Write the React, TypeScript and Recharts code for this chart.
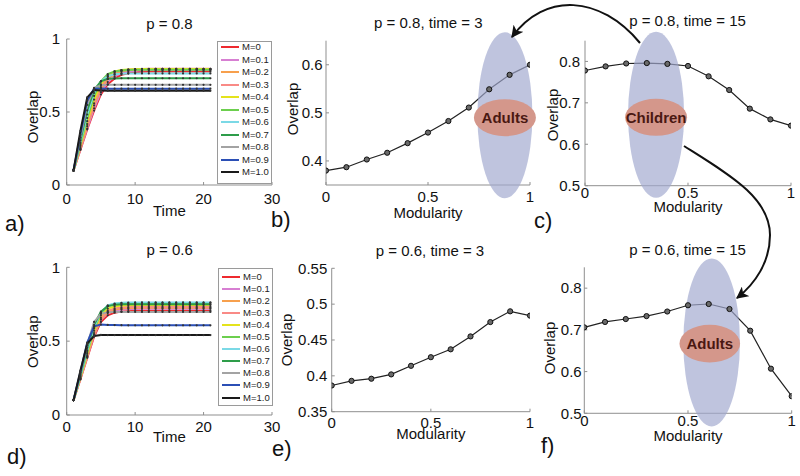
import React from 'react';
import { LineChart, Line, XAxis, YAxis, ReferenceDot, Legend, Label } from 'recharts';

// ---- data ----
const TIMES = [1, 2, 3, 4, 5, 6, 7, 8, 9, 10, 11, 12, 13, 14, 15, 16, 17, 18, 19, 20, 21];
const MODULARITY = [0, 0.1, 0.2, 0.3, 0.4, 0.5, 0.6, 0.7, 0.8, 0.9, 1];
const M_LABELS = ['M=0', 'M=0.1', 'M=0.2', 'M=0.3', 'M=0.4', 'M=0.5', 'M=0.6', 'M=0.7', 'M=0.8', 'M=0.9', 'M=1.0'];
const M_COLORS = ['#ee2a2f', '#d77fd2', '#f7a04d', '#f98a86', '#e4e31c', '#6ccf4e', '#7bd9e6', '#2e9d4a', '#a3a3a3', '#2b4fb5', '#1a1a1a'];

// overlap vs time, p = 0.8 (one row per modularity value)
const P08_CURVES = [
  [0.1, 0.24, 0.38, 0.51, 0.62, 0.69, 0.73, 0.755, 0.766, 0.772, 0.775, 0.777, 0.778, 0.778, 0.778, 0.778, 0.778, 0.778, 0.778, 0.778, 0.778],
  [0.1, 0.245, 0.387, 0.525, 0.635, 0.705, 0.745, 0.766, 0.777, 0.783, 0.786, 0.787, 0.788, 0.788, 0.788, 0.788, 0.788, 0.788, 0.788, 0.788, 0.788],
  [0.1, 0.25, 0.403, 0.545, 0.655, 0.725, 0.76, 0.778, 0.787, 0.791, 0.793, 0.794, 0.795, 0.795, 0.795, 0.795, 0.795, 0.795, 0.795, 0.795, 0.795],
  [0.1, 0.26, 0.417, 0.56, 0.67, 0.74, 0.772, 0.785, 0.79, 0.793, 0.795, 0.796, 0.796, 0.796, 0.796, 0.796, 0.796, 0.796, 0.796, 0.796, 0.796],
  [0.1, 0.27, 0.437, 0.585, 0.69, 0.752, 0.778, 0.787, 0.791, 0.793, 0.794, 0.794, 0.794, 0.794, 0.794, 0.794, 0.794, 0.794, 0.794, 0.794, 0.794],
  [0.1, 0.28, 0.459, 0.61, 0.71, 0.76, 0.778, 0.785, 0.788, 0.789, 0.789, 0.789, 0.789, 0.789, 0.789, 0.789, 0.789, 0.789, 0.789, 0.789, 0.789],
  [0.1, 0.29, 0.483, 0.63, 0.71, 0.745, 0.758, 0.762, 0.763, 0.764, 0.764, 0.764, 0.764, 0.764, 0.764, 0.764, 0.764, 0.764, 0.764, 0.764, 0.764],
  [0.1, 0.305, 0.511, 0.65, 0.71, 0.727, 0.73, 0.731, 0.731, 0.731, 0.731, 0.731, 0.731, 0.731, 0.731, 0.731, 0.731, 0.731, 0.731, 0.731, 0.731],
  [0.1, 0.325, 0.549, 0.665, 0.684, 0.686, 0.686, 0.686, 0.686, 0.686, 0.686, 0.686, 0.686, 0.686, 0.686, 0.686, 0.686, 0.686, 0.686, 0.686, 0.686],
  [0.1, 0.345, 0.579, 0.66, 0.661, 0.66, 0.66, 0.66, 0.66, 0.66, 0.66, 0.66, 0.66, 0.66, 0.66, 0.66, 0.66, 0.66, 0.66, 0.66, 0.66],
  [0.1, 0.37, 0.6, 0.65, 0.647, 0.645, 0.645, 0.645, 0.645, 0.645, 0.645, 0.645, 0.645, 0.645, 0.645, 0.645, 0.645, 0.645, 0.645, 0.645, 0.645],
];

// overlap vs time, p = 0.6
const P06_CURVES = [
  [0.1, 0.24, 0.387, 0.53, 0.63, 0.675, 0.693, 0.7, 0.703, 0.705, 0.706, 0.706, 0.706, 0.706, 0.706, 0.706, 0.706, 0.706, 0.706, 0.706, 0.706],
  [0.1, 0.245, 0.393, 0.54, 0.645, 0.69, 0.707, 0.714, 0.717, 0.718, 0.719, 0.719, 0.719, 0.719, 0.719, 0.719, 0.719, 0.719, 0.719, 0.719, 0.719],
  [0.1, 0.245, 0.396, 0.545, 0.65, 0.697, 0.714, 0.721, 0.724, 0.725, 0.726, 0.726, 0.726, 0.726, 0.726, 0.726, 0.726, 0.726, 0.726, 0.726, 0.726],
  [0.1, 0.25, 0.402, 0.555, 0.66, 0.706, 0.722, 0.729, 0.731, 0.732, 0.733, 0.733, 0.733, 0.733, 0.733, 0.733, 0.733, 0.733, 0.733, 0.733, 0.733],
  [0.1, 0.255, 0.414, 0.57, 0.675, 0.72, 0.735, 0.741, 0.743, 0.744, 0.744, 0.744, 0.744, 0.744, 0.744, 0.744, 0.744, 0.744, 0.744, 0.744, 0.744],
  [0.1, 0.26, 0.426, 0.585, 0.69, 0.737, 0.751, 0.756, 0.758, 0.759, 0.759, 0.759, 0.759, 0.759, 0.759, 0.759, 0.759, 0.759, 0.759, 0.759, 0.759],
  [0.1, 0.265, 0.437, 0.595, 0.695, 0.742, 0.755, 0.76, 0.761, 0.762, 0.762, 0.762, 0.762, 0.762, 0.762, 0.762, 0.762, 0.762, 0.762, 0.762, 0.762],
  [0.1, 0.275, 0.455, 0.61, 0.7, 0.737, 0.747, 0.749, 0.75, 0.75, 0.75, 0.75, 0.75, 0.75, 0.75, 0.75, 0.75, 0.75, 0.75, 0.75, 0.75],
  [0.1, 0.285, 0.475, 0.63, 0.685, 0.696, 0.698, 0.698, 0.698, 0.698, 0.698, 0.698, 0.698, 0.698, 0.698, 0.698, 0.698, 0.698, 0.698, 0.698, 0.698],
  [0.1, 0.29, 0.49, 0.6, 0.612, 0.61, 0.609, 0.608, 0.607, 0.607, 0.607, 0.607, 0.607, 0.607, 0.607, 0.607, 0.607, 0.607, 0.607, 0.607, 0.607],
  [0.1, 0.3, 0.484, 0.535, 0.542, 0.541, 0.541, 0.541, 0.541, 0.541, 0.541, 0.541, 0.541, 0.541, 0.541, 0.541, 0.541, 0.541, 0.541, 0.541, 0.541],
];

// overlap vs modularity snapshots
const P08_T3 = [0.38, 0.387, 0.403, 0.417, 0.437, 0.459, 0.483, 0.511, 0.549, 0.579, 0.6];
const P08_T15 = [0.778, 0.788, 0.795, 0.796, 0.794, 0.789, 0.764, 0.731, 0.686, 0.66, 0.645];
const P06_T3 = [0.3865, 0.393, 0.396, 0.402, 0.414, 0.426, 0.437, 0.455, 0.475, 0.49, 0.484];
const P06_T15 = [0.706, 0.719, 0.726, 0.733, 0.744, 0.759, 0.762, 0.75, 0.698, 0.607, 0.541];

const TIME_TICKS = [0, 10, 20, 30];
const MOD_TICKS = [0, 0.5, 1];

// ---- styling ----
const FONT = '"Liberation Sans", Arial, Helvetica, sans-serif';
const AXIS_GRAY = '#8f8f8f';
const TICK = -3;
const BLUE_BLOB = 'rgba(160,168,206,0.68)';
const SALMON = '#d4978b';

const fmt = (v: number) => String(Math.round(v * 100) / 100);

const timeRows = (curves: number[][]) =>
  TIMES.map((t, i) => {
    const row: Record<string, number> = { t };
    curves.forEach((c, k) => { row['m' + k] = c[i]; });
    return row;
  });

const modRows = (vals: number[]) => MODULARITY.map((m, i) => ({ m, v: vals[i] }));

interface PanelProps {
  left: number;
  top: number;
  plot: [number, number, number, number];
  data: any[];
  xKey: string;
  xDomain: [number, number];
  xTicks: number[];
  yDomain: [number, number];
  yTicks: number[];
  xGap: number;
  yGap: number;
  xLabel: string;
  xLabelY: number;
  yLabelX: number;
  yLabelY: number;
  children?: React.ReactNode;
}

// axis titles drawn with a fixed 15px font; positions given in page coords
const axisTitle = (text: string, pageX: number, pageY: number, left: number, top: number, rotate: boolean) => () => {
  const x = pageX - left;
  const y = pageY - top;
  return (
    <text x={x} y={y} dy="0.36em" textAnchor="middle" fontFamily={FONT} fontSize={15} fill="#111"
      transform={rotate ? `rotate(-90, ${x}, ${y})` : undefined}>
      {text}
    </text>
  );
};

const Panel = (p: PanelProps) => {
  const [x0, y0, x1, y1] = p.plot;
  const yW = x0 - p.left;
  const xH = 50;
  const width = x1 - p.left + 14;
  const height = y1 - p.top + xH;
  const tickStyle = { fill: '#111', fontSize: 15, fontFamily: FONT };
  return (
    <div style={{ position: 'absolute', left: p.left, top: p.top, width, height }}>
      <LineChart width={width} height={height} data={p.data} margin={{ top: y0 - p.top, right: 14, bottom: 0, left: 0 }}>
        <XAxis dataKey={p.xKey} type="number" domain={p.xDomain} ticks={p.xTicks} interval={0} allowDataOverflow
          height={xH} tickSize={TICK} tickMargin={p.xGap - TICK} tickFormatter={fmt}
          axisLine={{ stroke: AXIS_GRAY }} tickLine={{ stroke: AXIS_GRAY }} tick={tickStyle}>
          <Label content={axisTitle(p.xLabel, (x0 + x1) / 2, p.xLabelY, p.left, p.top, false)} />
        </XAxis>
        <XAxis xAxisId="top" orientation="top" dataKey={p.xKey} type="number" domain={p.xDomain} ticks={p.xTicks}
          allowDataOverflow height={0} tickSize={TICK} tick={false}
          axisLine={{ stroke: AXIS_GRAY }} tickLine={{ stroke: AXIS_GRAY }} />
        <YAxis type="number" domain={p.yDomain} ticks={p.yTicks} interval={0} allowDataOverflow width={yW}
          tickSize={TICK} tickMargin={p.yGap - TICK} tickFormatter={fmt}
          axisLine={{ stroke: AXIS_GRAY }} tickLine={{ stroke: AXIS_GRAY }} tick={tickStyle}>
          <Label content={axisTitle('Overlap', p.yLabelX, p.yLabelY, p.left, p.top, true)} />
        </YAxis>
        <YAxis yAxisId="right" orientation="right" type="number" domain={p.yDomain} ticks={p.yTicks}
          allowDataOverflow width={0} tickSize={TICK} tick={false}
          axisLine={{ stroke: AXIS_GRAY }} tickLine={{ stroke: AXIS_GRAY }} />
        {p.children}
      </LineChart>
    </div>
  );
};

const blob = (rx: number, ry: number, fill: string, text?: string) => (props: any) => (
  <g>
    <ellipse cx={props.cx} cy={props.cy} rx={rx} ry={ry} fill={fill} />
    {text ? (
      <text x={props.cx} y={props.cy + 5.5} textAnchor="middle" fontFamily={FONT} fontWeight="bold" fontSize={15} fill="#4a1812">
        {text}
      </text>
    ) : null}
  </g>
);

// legend box listing every modularity series with its colour (drawn as svg so samples stay crisp)
const makeLegend = (boxH: number, rowH: number, padTop: number) => () => (
  <svg width={55} height={boxH} style={{ display: 'block' }}>
    <rect x={0.5} y={0.5} width={54} height={boxH - 1} fill="#fff" stroke="#9a9a9a" />
    {M_LABELS.map((label, i) => {
      const y = Math.round(padTop + rowH * (i + 0.5));
      return (
        <g key={label}>
          <line x1={4} x2={22} y1={y} y2={y} stroke={M_COLORS[i]} strokeWidth={2} />
          <text x={25} y={y + 3.4} fontFamily={FONT} fontSize={9.5} fill="#222">{label}</text>
        </g>
      );
    })}
  </svg>
);

const timeLines = () =>
  M_LABELS.map((name, k) => (
    <Line key={name} dataKey={'m' + k} name={name} stroke={M_COLORS[k]} strokeWidth={2}
      dot={{ r: 1.1, fill: '#333', stroke: 'none' }} isAnimationActive={false} />
  ));

const modLine = () => (
  <Line dataKey="v" stroke="#222" strokeWidth={1.2}
    dot={{ r: 2.6, fill: '#6a6a6a', stroke: '#111', strokeWidth: 1 }} isAnimationActive={false} />
);

const TITLES = [
  { text: 'p = 0.8', x: 169.5, y: 28.7 },
  { text: 'p = 0.8, time = 3', x: 428.3, y: 27.6 },
  { text: 'p = 0.8, time = 15', x: 687.5, y: 26.2 },
  { text: 'p = 0.6', x: 169.7, y: 255.4 },
  { text: 'p = 0.6, time = 3', x: 430, y: 255.7 },
  { text: 'p = 0.6, time = 15', x: 687.5, y: 254.6 },
];

const LETTERS = [
  { text: 'a)', x: 5, y: 231 },
  { text: 'b)', x: 271, y: 227 },
  { text: 'c)', x: 534, y: 228 },
  { text: 'd)', x: 7, y: 464 },
  { text: 'e)', x: 272, y: 456 },
  { text: 'f)', x: 541, y: 453 },
];

const App = () => {
  return (
    <div style={{ position: 'absolute', left: 0, top: 0, width: 800, height: 476, background: '#fff', fontFamily: FONT }}>
      {/* a) */}
      <Panel left={0} top={0} plot={[66.7, 39, 272, 185]} data={timeRows(P08_CURVES)} xKey="t"
        xDomain={[0, 30]} xTicks={TIME_TICKS} yDomain={[0, 1]} yTicks={[0, 0.5, 1]}
        xGap={8} yGap={6.5} xLabel="Time" xLabelY={211} yLabelX={32.3} yLabelY={117}>
        {timeLines()}
        <Legend layout="vertical" align="center" verticalAlign="middle"
          wrapperStyle={{ left: 217, top: 41, width: 55 }} content={makeLegend(143, 12.5, 0)} />
      </Panel>

      {/* b) */}
      <Panel left={270} top={0} plot={[326, 40.7, 530, 185]} data={modRows(P08_T3)} xKey="m"
        xDomain={[0, 1]} xTicks={MOD_TICKS} yDomain={[0.35, 0.65]} yTicks={[0.4, 0.5, 0.6]}
        xGap={6.5} yGap={3.5} xLabel="Modularity" xLabelY={212.5} yLabelX={292.3} yLabelY={109}>
        <ReferenceDot x={0.877} y={0.495} r={1} ifOverflow="visible" shape={blob(27.5, 83, BLUE_BLOB)} />
        <ReferenceDot x={0.877} y={0.49} r={1} ifOverflow="visible" shape={blob(31, 18.5, SALMON, 'Adults')} />
        {modLine()}
      </Panel>

      {/* c) */}
      <Panel left={540} top={0} plot={[585, 40.7, 791, 185.7]} data={modRows(P08_T15)} xKey="m"
        xDomain={[0, 1]} xTicks={MOD_TICKS} yDomain={[0.5, 0.85]} yTicks={[0.5, 0.6, 0.7, 0.8]}
        xGap={2} yGap={5} xLabel="Modularity" xLabelY={206.5} yLabelX={552.7} yLabelY={115}>
        <ReferenceDot x={0.345} y={0.671} r={1} ifOverflow="visible" shape={blob(28, 83, BLUE_BLOB)} />
        <ReferenceDot x={0.345} y={0.665} r={1} ifOverflow="visible" shape={blob(31, 18.5, SALMON, 'Children')} />
        {modLine()}
      </Panel>

      {/* d) */}
      <Panel left={0} top={235} plot={[66.7, 267.3, 272, 415]} data={timeRows(P06_CURVES)} xKey="t"
        xDomain={[0, 30]} xTicks={TIME_TICKS} yDomain={[0, 1]} yTicks={[0, 0.5, 1]}
        xGap={6.5} yGap={6.5} xLabel="Time" xLabelY={436.5} yLabelX={32.3} yLabelY={341.7}>
        {timeLines()}
        <Legend layout="vertical" align="center" verticalAlign="middle"
          wrapperStyle={{ left: 218, top: 33, width: 55 }} content={makeLegend(138, 12.1, 2.5)} />
      </Panel>

      {/* e) */}
      <Panel left={270} top={235} plot={[331.7, 268.3, 530, 411.7]} data={modRows(P06_T3)} xKey="m"
        xDomain={[0, 1]} xTicks={MOD_TICKS} yDomain={[0.35, 0.55]} yTicks={[0.35, 0.4, 0.45, 0.5, 0.55]}
        xGap={6} yGap={4.4} xLabel="Modularity" xLabelY={434} yLabelX={286.7} yLabelY={340}>
        {modLine()}
      </Panel>

      {/* f) */}
      <Panel left={540} top={235} plot={[584.3, 267.3, 791.7, 413.3]} data={modRows(P06_T15)} xKey="m"
        xDomain={[0, 1]} xTicks={MOD_TICKS} yDomain={[0.5, 0.85]} yTicks={[0.5, 0.6, 0.7, 0.8]}
        xGap={2.5} yGap={2.6} xLabel="Modularity" xLabelY={436} yLabelX={550} yLabelY={348}>
        <ReferenceDot x={0.614} y={0.67} r={1} ifOverflow="visible" shape={blob(28.3, 84, BLUE_BLOB)} />
        <ReferenceDot x={0.605} y={0.667} r={1} ifOverflow="visible" shape={blob(30.3, 18.8, SALMON, 'Adults')} />
        {modLine()}
      </Panel>

      {/* titles, panel letters and the linking arrows */}
      <svg width={800} height={476} style={{ position: 'absolute', left: 0, top: 0, pointerEvents: 'none' }}>
        <defs>
          <marker id="head" viewBox="0 0 10 10" refX="9" refY="5" markerWidth="6" markerHeight="6" orient="auto">
            <path d="M0,0 L10,5 L0,10 L2.5,5 Z" fill="#111" />
          </marker>
        </defs>
        {TITLES.map((t) => (
          <text key={t.text} x={t.x} y={t.y} textAnchor="middle" fontFamily={FONT} fontSize={15} fill="#111">{t.text}</text>
        ))}
        {LETTERS.map((t) => (
          <text key={t.text} x={t.x} y={t.y} fontFamily={FONT} fontSize={22} fill="#111">{t.text}</text>
        ))}
        <path d="M640,43 C600,-5 545,-8 512,37" fill="none" stroke="#111" strokeWidth={2} markerEnd="url(#head)" />
        <path d="M684,146 C730,175 770,198 770,235 C770,262 755,284 737,298" fill="none" stroke="#111" strokeWidth={2} markerEnd="url(#head)" />
      </svg>
    </div>
  );
};

export default App;
